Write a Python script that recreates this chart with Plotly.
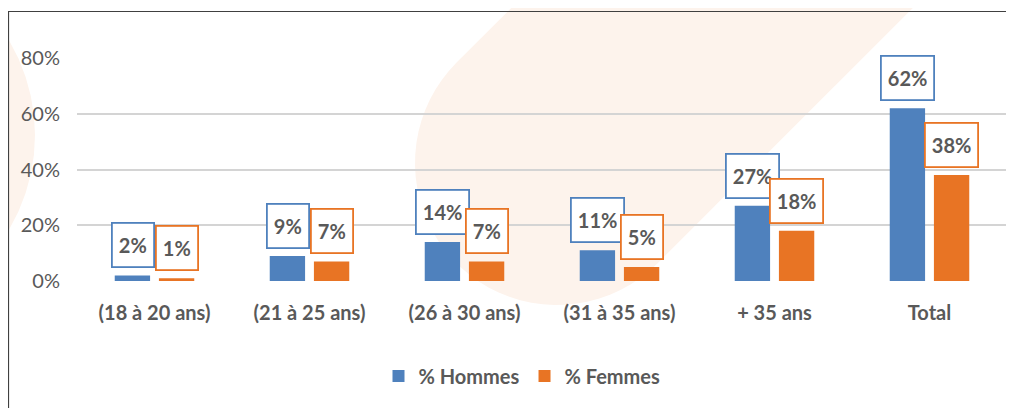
import numpy as np
import plotly.graph_objects as go

categories = ["(18 à 20 ans)", "(21 à 25 ans)", "(26 à 30 ans)", "(31 à 35 ans)", "+ 35 ans", "Total"]
hommes = [0.02, 0.09, 0.14, 0.11, 0.27, 0.62]
femmes = [0.01, 0.07, 0.07, 0.05, 0.18, 0.38]
hommes_labels = ["2%", "9%", "14%", "11%", "27%", "62%"]
femmes_labels = ["1%", "7%", "7%", "5%", "18%", "38%"]
y_ticks = [0, 0.2, 0.4, 0.6, 0.8]
y_tick_labels = ["0%", "20%", "40%", "60%", "80%"]

BLUE = "#4F81BD"
ORANGE = "#E87424"
GRAY = "#595959"
FONT = "Lato"

# the page body has an 8px margin: figure origin sits at (8, 8) on the page
OFF = 8
W, H = 1014 - OFF, 408 - OFF
# target plot area on the page: x 77..1007, y 58..281
ML, MR, MT, MB = 77 - OFF, 1014 - 1007, 58 - OFF, 408 - 281
PW, PH = W - ML - MR, H - MT - MB


def px2paper(x, y):
    # x, y in page pixels
    x -= OFF
    y -= OFF
    return (x - ML) / PW, (H - MB - y) / PH


def path_from_px(pts):
    parts = []
    for i, (x, y) in enumerate(pts):
        px_, py_ = px2paper(x, y)
        parts.append(("M" if i == 0 else "L") + f"{px_:.5f},{py_:.5f}")
    return " ".join(parts) + " Z"


# faint background watermark (decoration)
C = np.array([557.0, 163.0])
r = 142.0
u = np.array([1.0, -1.0]) / np.sqrt(2)
n = np.array([-1.0, -1.0]) / np.sqrt(2)
P1 = C + r * n
P2 = C - r * n
L = 700
band = [tuple(P1), tuple(P1 + L * u), tuple(P2 + L * u), tuple(P2)]
a0 = np.arctan2(P2[1] - C[1], P2[0] - C[0])
for a in np.linspace(a0, a0 + np.pi, 40):
    band.append((C[0] + r * np.cos(a), C[1] + r * np.sin(a)))

circ = []
for a in np.linspace(0, 2 * np.pi, 60):
    circ.append((-150 + 185 * np.cos(a), 135 + 185 * np.sin(a)))

shapes = [
    dict(type="path", xref="paper", yref="paper", path=path_from_px(band),
         fillcolor="#FDF3EC", line=dict(width=0), layer="below"),
    dict(type="path", xref="paper", yref="paper", path=path_from_px(circ),
         fillcolor="#FDF3EC", line=dict(width=0), layer="below"),
]
bx0, by0 = px2paper(8.5, 11.5)
bx1, by1 = px2paper(1100, 500)
shapes.append(dict(type="rect", xref="paper", yref="paper", x0=bx0, y0=by0, x1=bx1, y1=by1,
                   line=dict(color="#404040", width=1.2), fillcolor="rgba(0,0,0,0)", layer="above"))

fig = go.Figure()
fig.add_trace(go.Bar(x=categories, y=hommes, name="% Hommes", marker=dict(color=BLUE, line=dict(width=0))))
fig.add_trace(go.Bar(x=categories, y=femmes, name="% Femmes", marker=dict(color=ORANGE, line=dict(width=0))))

annotations = []
for vals, labs, col, sh in ((hommes, hommes_labels, BLUE, -22), (femmes, femmes_labels, ORANGE, 22)):
    for cat, v, lab in zip(categories, vals, labs):
        annotations.append(dict(x=cat, y=v, text=lab, xshift=sh, yshift=30, showarrow=False,
                                xanchor="center", yanchor="middle", height=30,
                                font=dict(family=FONT, size=20, color=GRAY, weight="bold"),
                                bordercolor=col, borderwidth=1.8, borderpad=6, bgcolor="white"))

lx, ly = px2paper(522, 376)

fig.update_layout(
    width=W, height=H,
    margin=dict(l=ML, r=MR, t=MT, b=MB, autoexpand=False),
    paper_bgcolor="white", plot_bgcolor="rgba(0,0,0,0)",
    barmode="group", bargap=0.43, bargroupgap=0.2,
    font=dict(family=FONT, color=GRAY),
    shapes=shapes,
    annotations=annotations,
    showlegend=True,
    legend=dict(orientation="h", x=lx, xanchor="center", y=ly, yanchor="middle",
                font=dict(family=FONT, size=20, color=GRAY, weight="bold"),
                itemwidth=30, bgcolor="rgba(0,0,0,0)"),
    xaxis=dict(showgrid=False, zeroline=False, showline=False, ticks="",
               tickfont=dict(family=FONT, size=20, color=GRAY, weight="bold"),
               ticklabelstandoff=18),
    yaxis=dict(range=[0, 0.8], tickvals=y_ticks, ticktext=y_tick_labels,
               showgrid=True, gridcolor="#D4D4D4", gridwidth=1.6,
               zeroline=False, showline=False, ticks="",
               tickfont=dict(family=FONT, size=20, color=GRAY),
               ticklabelstandoff=16),
)

fig.write_html("out.html")
